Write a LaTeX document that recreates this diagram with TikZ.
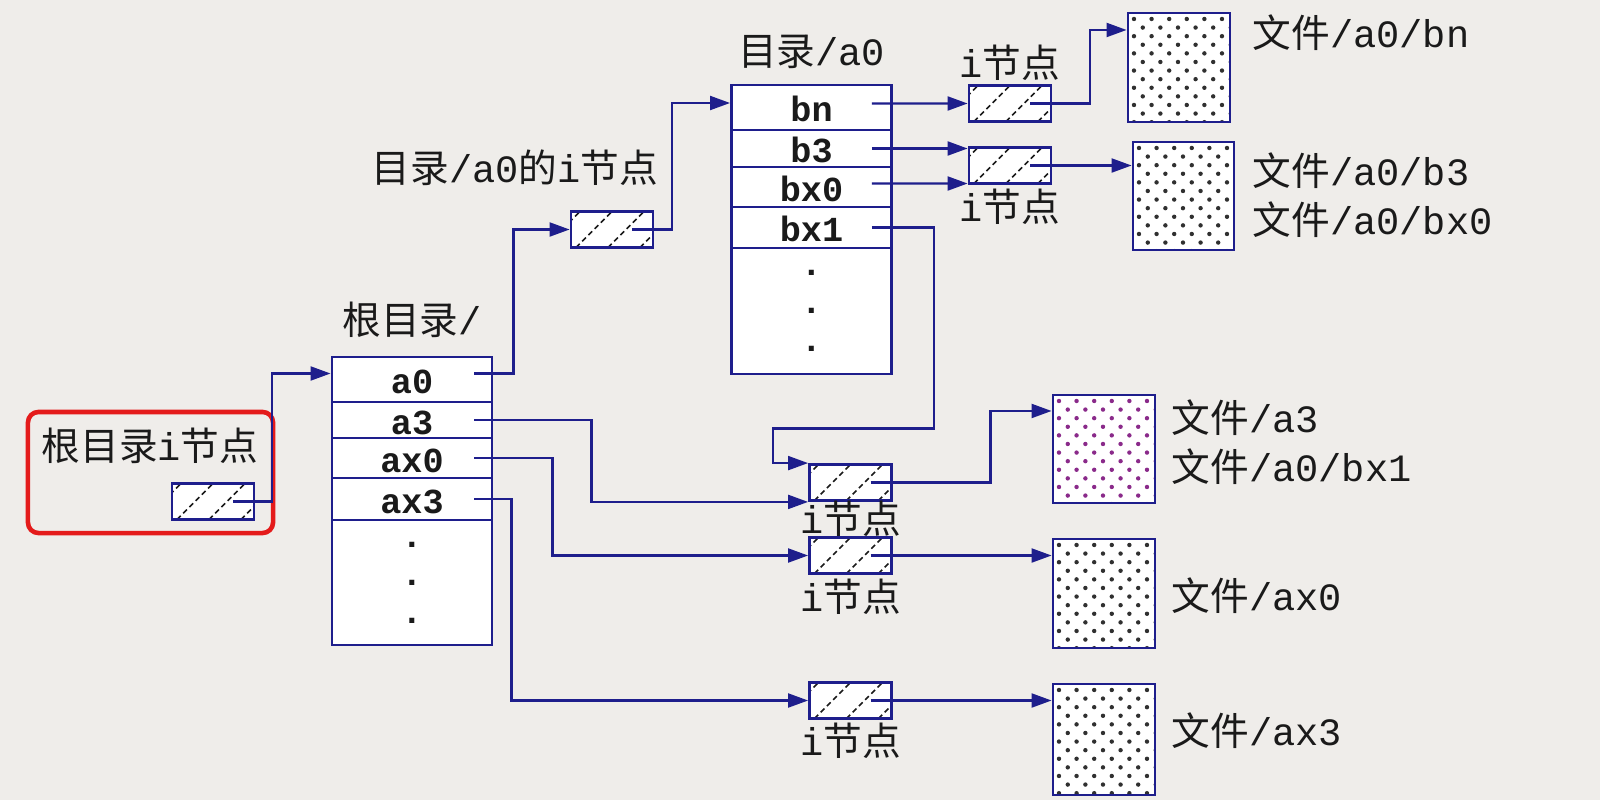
\documentclass[tikz,border=0pt]{standalone}
\usepackage{fontspec}
\setmonofont{Liberation Mono}
\newfontfamily\cjk{Noto Sans CJK SC}
\usetikzlibrary{positioning, arrows.meta}
\definecolor{bgpaper}{HTML}{EFEDEA}
\definecolor{navyline}{HTML}{1E1E8C}
\definecolor{inkdark}{HTML}{1A1A1A}
\definecolor{dotgrey}{HTML}{303030}
\definecolor{dotpurple}{HTML}{8A2A8A}
\definecolor{framered}{HTML}{E41B1B}
\newcommand{\mtt}[1]{{\ttfamily #1}}
\tikzset{
  link/.style={-{Triangle[length=2mm,width=1.4mm]}, draw=navyline, line width=0.6pt},
  lbl/.style={inner sep=0pt, text=inkdark, font=\cjk\fontsize{11}{14}\selectfont},
  dirrow/.style={
    draw=navyline, fill=white, line width=0.8pt,
    minimum width=1.6cm, inner sep=0pt, text=inkdark,
    text height=0.30cm, text depth=0.02cm,
    font=\fontsize{10}{10.8}\selectfont\ttfamily\bfseries
  },
  hatchline/.style={draw=inkdark, line width=0.45pt, dash pattern=on 1.5pt off 1pt},
  inode/.style={
    draw=navyline, fill=white, line width=0.8pt,
    minimum width=0.82cm, minimum height=0.36cm, inner sep=0pt,
    path picture={
      \foreach \k in {-27,5,37,69}
        \draw[hatchline] ([shift={(\k,0)}]path picture bounding box.south west) -- ++(40,-40);
    }
  },
  filebox/.style={
    draw=navyline, fill=white, line width=0.8pt,
    minimum width=1.02cm, minimum height=1.09cm, inner sep=0pt,
    path picture={
      \foreach \r [evaluate=\r as \o using {mod(\r,2)*8.8}] in {0,...,12}
        \foreach \c in {0,...,6}
          \fill[#1] ([shift={({\c*17.6+\o+6},{\r*8.6+6})}]path picture bounding box.north west) circle[radius=0.022cm];
    }
  },
  filebox/.default=dotgrey,
  rootframe/.style={
    draw=framered, line width=1.3pt, rounded corners=3pt,
    minimum width=2.45cm, minimum height=1.21cm
  }
}
\begin{document}
\begin{tikzpicture}[x=0.01cm, y=-0.01cm]
\useasboundingbox (0,0) rectangle (1600,800);
\fill[bgpaper] (0,0) rectangle (1600,800);

% root i-node
\node[rootframe] (rootbox) at (150.5,472.5) {};
\node[lbl] (rootlbl) at (150,446) {根目录\mtt{i}节点};
\node[inode] (rootino) at (213,501.5) {};

% root directory
\node[dirrow, minimum height=0.45cm] (ra0) at (412,379.5) {a0};
\node[dirrow, minimum height=0.36cm] (ra3) at (412,420) {a3};
\node[dirrow, minimum height=0.40cm] (rax0) at (412,458) {ax0};
\node[dirrow, minimum height=0.42cm] (rax3) at (412,499) {ax3};
\node[dirrow, minimum height=1.25cm, text height=, text depth=, align=center] (rdots) at (412,582.5) {.\\.\\.};
\node[lbl, above=0.17cm of ra0] (rootdirlbl) {根目录\mtt{/}};

% directory /a0
\node[inode] (inoa0) at (612,229.5) {};
\node[lbl] (inoa0lbl) at (515,168) {目录\mtt{/a0}的\mtt{i}节点};
\node[dirrow, minimum height=0.45cm] (dbn) at (811.5,107.5) {bn};
\node[dirrow, minimum height=0.37cm] (db3) at (811.5,148.5) {b3};
\node[dirrow, minimum height=0.40cm] (dbx0) at (811.5,187) {bx0};
\node[dirrow, minimum height=0.41cm] (dbx1) at (811.5,227.5) {bx1};
\node[dirrow, minimum height=1.26cm, text height=, text depth=, align=center] (ddots) at (811.5,311) {.\\.\\.};
\node[lbl, above=0.14cm of dbn] (dira0lbl) {目录\mtt{/a0}};

% i-nodes of the files
\node[inode] (inobn) at (1010,103.5) {};
\node[inode] (inob3) at (1010,165.5) {};
\node[inode] (inobx1) at (850.5,482.5) {};
\node[inode] (inoax0) at (850.5,555.5) {};
\node[inode] (inoax3) at (850.5,700.5) {};
\node[lbl, above=0.03cm of inobn] (inobnlbl) {\mtt{i}节点};
\node[lbl, below=0.03cm of inob3] (inob3lbl) {\mtt{i}节点};
\node[lbl, below=-0.02cm of inobx1] (inobx1lbl) {\mtt{i}节点};
\node[lbl, below=0.03cm of inoax0] (inoax0lbl) {\mtt{i}节点};
\node[lbl, below=0.02cm of inoax3] (inoax3lbl) {\mtt{i}节点};

% files
\node[filebox] (fbn) at (1179,67.5) {};
\node[filebox, minimum width=1.01cm, minimum height=1.08cm] (fb3) at (1183.5,196) {};
\node[filebox=dotpurple, minimum height=1.08cm] (fa3) at (1104,449) {};
\node[filebox] (fax0) at (1104,593.5) {};
\node[filebox, minimum height=1.11cm] (fax3) at (1104,739.5) {};
\node[lbl, anchor=west] (fbnlbl) at (1252,33) {文件\mtt{/a0/bn}};
\node[lbl, anchor=west, align=left] (fb3lbl) at (1252,195) {文件\mtt{/a0/b3}\\文件\mtt{/a0/bx0}};
\node[lbl, anchor=west, align=left] (fa3lbl) at (1171,442) {文件\mtt{/a3}\\文件\mtt{/a0/bx1}};
\node[lbl, anchor=west] (fax0lbl) at (1171,596) {文件\mtt{/ax0}};
\node[lbl, anchor=west] (fax3lbl) at (1171,731) {文件\mtt{/ax3}};

% links
\draw[link] ([xshift=.2cm]rootino.center) -- ++(39,0) |- ([yshift=.06cm]ra0.west);
\draw[link] ([xshift=-.19cm,yshift=.06cm]ra0.east) -- ++(39,0) |- (inoa0.west);
\draw[link] ([xshift=.2cm]inoa0.center) -- ++(40,0) |- ([yshift=.045cm]dbn.west);
\draw[link] ([xshift=-.21cm,yshift=.04cm]dbn.east) -- (inobn.west);
\draw[link] ([xshift=-.21cm]db3.east) -- (db3.east -| inob3.west);
\draw[link] ([xshift=-.21cm,yshift=.035cm]dbx0.east) -- ([yshift=-.18cm]inob3.west);
\draw[link] ([xshift=.2cm]inobn.center) -- ++(60,0) |- ([yshift=.375cm]fbn.west);
\draw[link] ([xshift=.2cm]inob3.center) -- (inob3 -| fb3.west);
\draw[link] ([xshift=-.21cm]dbx1.east) -- ++(62,0) |- ++(-161,201) |- (inobx1.north west);
\draw[link] ([xshift=-.19cm]ra3.east) -- ++(117,0) |- (inobx1.south west);
\draw[link] ([xshift=.2cm]inobx1.center) -- ++(120,0) |- ([yshift=.38cm]fa3.west);
\draw[link] ([xshift=-.19cm]rax0.east) -- ++(78,0) |- (inoax0.west);
\draw[link] ([xshift=.2cm]inoax0.center) -- (inoax0 -| fax0.west);
\draw[link] ([xshift=-.19cm]rax3.east) -- ++(37,0) |- (inoax3.west);
\draw[link] ([xshift=.2cm]inoax3.center) -- (inoax3 -| fax3.west);
\end{tikzpicture}
\end{document}
